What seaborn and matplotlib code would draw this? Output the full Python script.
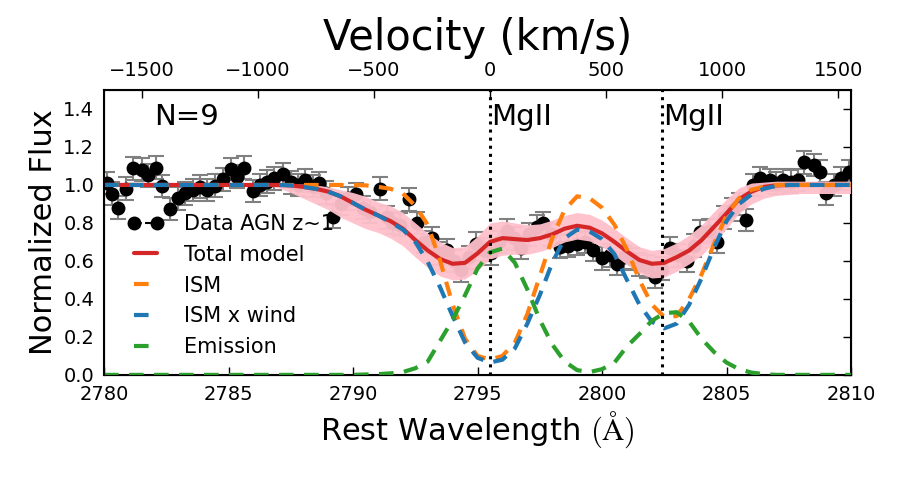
import numpy as np
import pandas as pd
import matplotlib
matplotlib.use("Agg")
import matplotlib.pyplot as plt
from matplotlib.lines import Line2D
import seaborn as sns

# stacked spectrum, N=9 AGN at z~1
wave = [2780.13, 2780.31, 2780.57, 2780.88, 2781.15, 2781.51, 2781.78, 2782.08, 2782.32, 2782.65,
        2782.98, 2783.25, 2783.56, 2783.86, 2784.15, 2784.46, 2784.77, 2785.09, 2785.35, 2785.62,
        2785.97, 2786.27, 2786.53, 2786.83, 2787.18, 2787.5, 2787.8, 2788.07, 2788.38, 2788.65,
        2788.93, 2789.21, 2789.5, 2789.8, 2790.1, 2790.4, 2790.7, 2791.08, 2791.35, 2791.62,
        2791.9, 2792.25, 2792.55, 2792.85, 2793.16, 2793.45, 2793.76, 2794.05, 2794.35, 2794.65,
        2794.95, 2795.25, 2795.55, 2795.85, 2796.17, 2796.45, 2796.75, 2797.05, 2797.38, 2797.62,
        2797.95, 2798.3, 2798.65, 2798.98, 2799.3, 2799.65, 2799.98, 2800.3, 2800.59, 2800.9,
        2801.2, 2801.5, 2801.8, 2802.13, 2802.42, 2802.72, 2803.05, 2803.4, 2803.7, 2803.95,
        2804.3, 2804.6, 2804.9, 2805.2, 2805.5, 2805.78, 2806.05, 2806.35, 2806.75, 2807.0,
        2807.25, 2807.6, 2807.87, 2808.1, 2808.5, 2808.76, 2809.0, 2809.3, 2809.6, 2809.9]
flux = [1.01, 0.955, 0.88, 0.98, 1.088, 1.08, 1.05, 1.09, 0.995, 0.873,
        0.93, 0.956, 0.974, 0.99, 0.974, 0.996, 1.03, 1.084, 1.044, 1.09,
        0.968, 1.0, 1.017, 1.035, 1.058, 1.015, 1.0, 1.025, 0.995, 1.01,
        0.96, 0.833, 0.90, 0.93, 0.95, 0.88, 0.86, 0.98, 0.83, 0.80,
        0.79, 0.925, 0.80, 0.70, 0.72, 0.64, 0.655, 0.60, 0.55, 0.62,
        0.69, 0.66, 0.64, 0.70, 0.76, 0.72, 0.67, 0.74, 0.78, 0.80,
        0.74, 0.675, 0.68, 0.69, 0.70, 0.658, 0.614, 0.63, 0.585, 0.62,
        0.61, 0.58, 0.57, 0.517, 0.56, 0.667, 0.63, 0.60, 0.68, 0.754,
        0.76, 0.70, 0.83, 0.87, 0.90, 0.815, 1.0, 1.035, 1.026, 1.01,
        1.026, 1.017, 1.026, 1.12, 1.105, 1.07, 0.956, 1.0, 1.035, 1.07]
flux_err = 0.06

# model components
model_wave = [2780, 2786,
              2787, 2787.5, 2788, 2788.5, 2789, 2789.5, 2790, 2790.5, 2791, 2791.5,
              2792, 2792.5, 2793, 2793.5, 2794, 2794.5, 2795, 2795.5, 2796, 2796.5,
              2797, 2797.5, 2798, 2798.5, 2799, 2799.5, 2800, 2800.5, 2801, 2801.5,
              2802, 2802.5, 2803, 2803.5, 2804, 2804.5, 2805, 2805.5, 2806, 2806.5,
              2807, 2807.5, 2808, 2810]
total_model = [1.0, 1.0,
               1.0, 0.998, 0.99, 0.98, 0.965, 0.94, 0.905, 0.87, 0.84, 0.81,
               0.77, 0.71, 0.655, 0.61, 0.585, 0.59, 0.64, 0.70, 0.72, 0.715,
               0.71, 0.72, 0.74, 0.77, 0.785, 0.775, 0.745, 0.70, 0.65, 0.605,
               0.585, 0.59, 0.62, 0.655, 0.71, 0.78, 0.85, 0.925, 0.965, 0.99,
               0.998, 1.0, 1.0, 1.0]
ism = [1.0, 1.0,
       1.0, 1.0, 1.0, 1.0, 1.0, 1.0, 1.0, 0.998, 0.99, 0.98,
       0.955, 0.89, 0.79, 0.60, 0.37, 0.19, 0.10, 0.08, 0.10, 0.17,
       0.32, 0.52, 0.72, 0.87, 0.94, 0.93, 0.88, 0.79, 0.66, 0.50,
       0.37, 0.305, 0.31, 0.40, 0.53, 0.69, 0.84, 0.93, 0.975, 0.99,
       1.0, 1.0, 1.0, 1.0]
ism_wind = [1.0, 1.0,
            1.0, 0.998, 0.99, 0.98, 0.965, 0.94, 0.905, 0.87, 0.84, 0.805,
            0.765, 0.70, 0.595, 0.46, 0.31, 0.17, 0.09, 0.065, 0.08, 0.14,
            0.27, 0.42, 0.59, 0.72, 0.765, 0.755, 0.715, 0.635, 0.50, 0.37,
            0.28, 0.245, 0.27, 0.37, 0.51, 0.67, 0.81, 0.90, 0.95, 0.98,
            0.995, 1.0, 1.0, 1.0]
emission = [0, 0,
            0, 0, 0, 0, 0, 0, 0, 0.002, 0.004, 0.008,
            0.015, 0.035, 0.07, 0.18, 0.29, 0.42, 0.56, 0.645, 0.665, 0.59,
            0.45, 0.29, 0.16, 0.07, 0.025, 0.015, 0.03, 0.065, 0.15, 0.215,
            0.285, 0.325, 0.33, 0.28, 0.19, 0.12, 0.065, 0.03, 0.012, 0.004,
            0, 0, 0, 0]

# spread of the model samples (pink band)
band_wave = [2786.5, 2787, 2787.5, 2788, 2788.5, 2789, 2789.5, 2790, 2790.5, 2791, 2791.5,
             2792, 2792.5, 2793, 2793.5, 2794, 2794.5, 2795, 2795.5, 2796, 2796.5,
             2797, 2797.5, 2798, 2798.5, 2799, 2799.5, 2800, 2800.5, 2801, 2801.5,
             2802, 2802.5, 2803, 2803.5, 2804, 2804.5, 2805, 2805.5, 2806, 2806.5,
             2807, 2808, 2810]
band_lo = [1.0, 0.985, 0.96, 0.93, 0.90, 0.87, 0.83, 0.80, 0.77, 0.75, 0.72,
           0.68, 0.62, 0.565, 0.52, 0.50, 0.505, 0.55, 0.61, 0.63, 0.635,
           0.635, 0.65, 0.67, 0.70, 0.715, 0.705, 0.675, 0.63, 0.58, 0.535,
           0.51, 0.515, 0.545, 0.585, 0.63, 0.70, 0.77, 0.85, 0.90, 0.93,
           0.945, 0.955, 0.955]
band_hi = [1.0, 1.005, 1.005, 1.005, 1.0, 0.99, 0.975, 0.96, 0.94, 0.91, 0.89,
           0.855, 0.80, 0.745, 0.70, 0.67, 0.675, 0.73, 0.80, 0.81, 0.80,
           0.79, 0.795, 0.815, 0.84, 0.855, 0.845, 0.815, 0.77, 0.72, 0.675,
           0.655, 0.665, 0.695, 0.735, 0.79, 0.86, 0.925, 0.985, 1.01, 1.015,
           1.02, 1.02, 1.02]

mg2_lines = [2795.5, 2802.4]
v_zero = 2795.5
c_kms = 299792.458
xlim = (2780, 2810)

sns.set_style("white")
plt.rcParams.update({"mathtext.fontset": "cm", "text.color": "black",
                     "axes.labelcolor": "black", "axes.edgecolor": "black",
                     "xtick.color": "black", "ytick.color": "black"})
plt.rcParams["font.family"] = ["DejaVu Sans"]

df = pd.DataFrame({"wave": model_wave, "total": total_model, "ism": ism,
                   "ism_wind": ism_wind, "emission": emission})

fig, ax = plt.subplots(figsize=(9, 4.8), dpi=100)
fig.subplots_adjust(left=0.1156, right=0.9456, top=0.8125, bottom=0.219)

ax.errorbar(wave, flux, yerr=flux_err, fmt="o", color="black", ms=9,
            ecolor="grey", elinewidth=1.5, capsize=6, capthick=1.5, zorder=2)
ax.fill_between(band_wave, band_lo, band_hi, color="pink", alpha=0.95, lw=0, zorder=3)

dash = (0, (3.5, 2.5))
comps = [("total", "#d62728", "-"), ("ism", "#ff7f0e", dash),
         ("ism_wind", "#1f77b4", dash), ("emission", "#2ca02c", dash)]
for col, colour, style in comps:
    sns.lineplot(data=df, x="wave", y=col, ax=ax, color=colour, lw=3, zorder=4)
    ax.lines[-1].set_linestyle(style)

for lam in mg2_lines:
    ax.axvline(lam, color="black", ls=":", lw=2.2, zorder=5)
    ax.text(lam + 0.05, 1.36, "MgII", fontsize=21, va="center", ha="left")
ax.text(2782.0, 1.36, "N=9", fontsize=21, va="center", ha="left")

ax.set_xlim(*xlim)
ax.set_ylim(0, 1.5)
ax.set_yticks(np.arange(0, 1.41, 0.2))
ax.set_yticklabels([f"{t:.1f}" for t in np.arange(0, 1.41, 0.2)])
ax.set_xticks([2780, 2785, 2790, 2795, 2800, 2805, 2810])
ax.tick_params(direction="in", length=6, width=1, labelsize=14, top=False, right=True, pad=7)
ax.set_xlabel(r"Rest Wavelength $(\mathrm{\AA})$", fontsize=22)
ax.set_ylabel("Normalized Flux", fontsize=22)
for sp in ax.spines.values():
    sp.set_linewidth(1.5)

ax2 = ax.twiny()
ax2.set_xlim((xlim[0] - v_zero) / v_zero * c_kms, (xlim[1] - v_zero) / v_zero * c_kms)
ax2.set_xticks([-1500, -1000, -500, 0, 500, 1000, 1500])
ax2.tick_params(direction="in", length=6, width=1, labelsize=14, pad=7)
ax2.set_xlabel("Velocity (km/s)", fontsize=30, labelpad=8)

handles = [Line2D([], [], color="black", marker="o", ms=9, ls="--", lw=1.5),
           Line2D([], [], color="#d62728", lw=3),
           Line2D([], [], color="#ff7f0e", lw=3, ls=dash),
           Line2D([], [], color="#1f77b4", lw=3, ls=dash),
           Line2D([], [], color="#2ca02c", lw=3, ls=dash)]
labels = ["Data AGN z~1", "Total model", "ISM", "ISM x wind", "Emission"]
ax.legend(handles, labels, loc="upper left", bbox_to_anchor=(0.007, 0.631), frameon=False,
          fontsize=15, numpoints=2, handlelength=1.7, handletextpad=1.0, labelspacing=0.52)

fig.savefig("out.png", dpi=100)
